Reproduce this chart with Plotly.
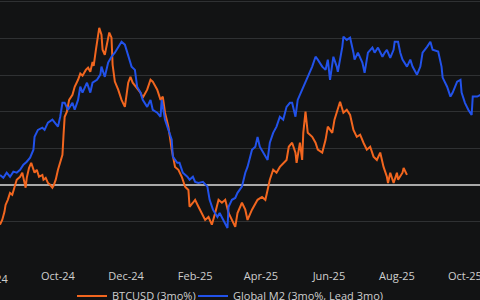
import pandas as pd
import plotly.graph_objects as go

START = "2024-08-10"

# BTCUSD 3-month % change: days since START, value (%)
btc_day = [0, 2, 4, 5, 7, 9, 11, 13, 15, 18, 20, 21, 23, 24, 26, 28, 30, 31, 33, 35,
           38, 39, 41, 43, 45, 47, 48, 50, 52, 54, 56, 57, 58, 60, 62, 65, 67, 70, 72, 74,
           77, 79, 81, 83, 84, 86, 88, 89, 91, 92, 94, 96, 98, 100, 101, 103, 106, 109, 112, 115,
           117, 119, 123, 126, 128, 132, 135, 137, 141, 144, 146, 148, 151, 154, 157, 160, 163, 166, 169, 170,
           173, 175, 178, 181, 184, 187, 190, 193, 196, 199, 202, 205, 208, 211, 213, 217, 220, 222, 226, 229,
           231, 235, 238, 240, 242, 245, 248, 251, 254, 257, 259, 262, 265, 266, 269, 271, 272, 274, 276, 280,
           283, 285, 289, 292, 294, 298, 300, 303, 305, 308, 311, 314, 317, 320, 323, 326, 329, 332, 335, 338,
           341, 344, 347, 348, 350, 353, 356, 357, 361, 362, 365]
btc_val = [-10.9, -9.6, -7.4, -5.5, -4.1, -2.2, -2.7, -0.5, 1.4, 2.2, 3.3, 1.9, -0.8, 1.9, 4.6, 6.0, 4.1, 3.3, 4.1, 2.2,
           2.7, 1.4, 1.9, 0.5, 0.0, -0.8, -0.3, 1.4, 4.1, 6.0, 8.2, 13.7, 18.6, 20.0, 23.2, 24.6, 26.8, 28.7, 30.4, 29.8,
           31.4, 32.0, 30.9, 33.6, 32.5, 36.9, 40.2, 42.9, 41.0, 36.9, 35.5, 38.3, 41.6, 40.2, 32.8, 28.2, 26.0, 23.2, 21.3, 27.9,
           29.5, 27.9, 26.5, 25.2, 23.8, 26.0, 28.7, 28.2, 26.0, 23.2, 24.1, 19.7, 15.9, 9.6, 4.9, 4.1, 2.2, -0.5, -1.4, -6.0,
           -4.9, -4.1, -6.0, -7.7, -9.6, -8.8, -10.9, -7.7, -4.1, -4.9, -4.1, -7.7, -9.6, -11.5, -7.7, -4.9, -6.8, -9.6, -6.8, -4.9,
           -4.1, -3.3, -4.1, -1.4, 1.4, 4.1, 3.3, 4.9, 6.0, 6.8, 10.4, 11.5, 8.8, 6.0, 11.5, 6.8, 14.2, 20.0, 14.2, 13.1,
           11.5, 9.6, 8.8, 12.3, 15.9, 14.2, 17.8, 20.5, 22.7, 19.7, 20.5, 19.1, 15.0, 13.1, 13.7, 11.5, 9.6, 10.4, 7.7, 6.8,
           8.8, 4.9, 2.2, 0.5, 3.3, 0.5, 3.3, 1.4, 3.3, 4.6, 2.7]

# Global M2 3-month % change, led by 3 months
m2_day = [0, 3, 6, 9, 12, 15, 18, 21, 24, 27, 30, 31, 34, 38, 40, 43, 47, 49, 52, 54,
          56, 58, 61, 65, 67, 70, 72, 74, 78, 81, 83, 87, 90, 91, 94, 97, 100, 103, 106, 109,
          112, 115, 118, 121, 123, 126, 128, 132, 135, 137, 141, 144, 145, 148, 151, 154, 155, 159, 161, 164,
          168, 170, 173, 175, 178, 182, 186, 188, 191, 195, 197, 200, 204, 205, 208, 211, 213, 217, 220, 222,
          226, 229, 231, 233, 236, 240, 242, 245, 248, 251, 254, 257, 260, 262, 265, 267, 271, 274, 276, 280,
          283, 285, 289, 292, 294, 296, 299, 302, 303, 307, 308, 311, 314, 317, 318, 321, 325, 327, 330, 334,
          336, 339, 343, 345, 347, 350, 353, 354, 357, 359, 361, 365, 368, 370, 374, 377, 379, 383, 386, 388,
          393, 396, 397, 401, 404, 406, 410, 413, 414, 417, 420, 423, 424, 428, 431]
m2_val = [2.7, 1.9, 3.3, 2.2, 3.6, 3.3, 4.1, 5.5, 6.3, 7.4, 9.6, 13.1, 15.0, 15.6, 15.0, 17.0, 17.8, 17.0, 15.9, 18.6,
          22.4, 22.4, 20.5, 22.4, 20.5, 23.2, 26.8, 25.2, 27.9, 25.2, 27.9, 28.7, 30.1, 32.3, 29.5, 33.4, 35.0, 36.1, 37.7, 39.1,
          38.3, 35.0, 32.3, 31.4, 26.8, 25.2, 23.2, 21.3, 23.2, 20.5, 19.7, 18.6, 23.2, 17.8, 15.0, 12.3, 7.7, 6.0, 6.0, 3.3,
          2.2, 1.4, 2.2, 0.8, 0.5, 0.8, -0.5, -4.1, -6.8, -8.8, -7.7, -9.6, -11.8, -6.0, -4.1, -3.6, -2.2, -0.5, 3.3, 4.9,
          9.6, 10.4, 13.1, 10.4, 8.8, 6.8, 11.5, 14.2, 15.9, 18.6, 17.8, 21.3, 22.4, 22.4, 18.6, 23.2, 26.0, 27.9, 29.5, 32.3,
          35.0, 34.2, 32.3, 31.4, 34.2, 28.7, 35.0, 32.3, 30.9, 37.7, 40.5, 39.6, 40.2, 36.1, 34.2, 36.1, 33.4, 30.6, 36.1, 37.5,
          36.1, 37.5, 35.0, 36.1, 36.9, 34.7, 36.9, 39.1, 39.1, 36.1, 34.2, 32.3, 34.2, 32.3, 30.1, 32.3, 36.1, 37.7, 39.1, 36.9,
          36.4, 32.3, 29.3, 26.8, 24.1, 25.2, 28.2, 28.7, 25.2, 22.4, 20.5, 19.1, 24.1, 24.1, 24.6]

tick_dates = ["2024-10-01", "2024-12-01", "2025-02-01", "2025-04-01", "2025-06-01", "2025-08-01", "2025-10-01"]
tick_labels = ["Oct-24", "Dec-24", "Feb-25", "Apr-25", "Jun-25", "Aug-25", "Oct-25"]

start = pd.Timestamp(START)
btc_dates = start + pd.to_timedelta(btc_day, unit="D")
m2_dates = start + pd.to_timedelta(m2_day, unit="D")

BG = "#121314"
ORANGE = "#f2661f"
BLUE = "#2252ea"
TXT = "#cfcfcf"

fig = go.Figure()
fig.add_trace(go.Scatter(x=btc_dates, y=btc_val, mode="lines", name="BTCUSD (3mo%)",
                         line=dict(color=ORANGE, width=2), legend="legend"))
fig.add_trace(go.Scatter(x=m2_dates, y=m2_val, mode="lines", name="Global M2 (3mo%, Lead 3mo)",
                         line=dict(color=BLUE, width=2), legend="legend2"))

leg_common = dict(orientation="h", xanchor="left", yref="container", y=0.062, yanchor="top",
                  bgcolor="rgba(0,0,0,0)", font=dict(size=11, color=TXT), itemwidth=30)

fig.update_layout(
    width=480, height=300,
    margin=dict(l=0, r=0, t=0, b=42, autoexpand=False),
    paper_bgcolor=BG, plot_bgcolor=BG,
    font=dict(family="Open Sans", size=11, color=TXT),
    showlegend=True,
    legend=dict(x=72/480, **leg_common),
    legend2=dict(x=193/480, **leg_common),
    xaxis=dict(type="date", range=["2024-08-10", "2025-10-14 12:00"],
               tickmode="array", tickvals=tick_dates, ticktext=tick_labels,
               showgrid=False, zeroline=False, showline=False,
               ticks="outside", ticklen=8, tickcolor="rgba(0,0,0,0)",
               ticklabeloverflow="allow", automargin=False,
               tickfont=dict(size=11, color=TXT)),
    yaxis=dict(range=[-20, 50.5], tickmode="linear", tick0=0, dtick=10,
               showticklabels=False, showgrid=True, gridcolor="#2f3133", gridwidth=1,
               zeroline=True, zerolinecolor="#a9a9a9", zerolinewidth=1.5, showline=False,
               automargin=False),
    annotations=[dict(text="Aug-24", xref="paper", yref="paper", x=-10/480, y=-20/258,
                      xanchor="center", yanchor="middle", showarrow=False,
                      font=dict(size=11, color=TXT))],
)

fig.write_html("out.html")
